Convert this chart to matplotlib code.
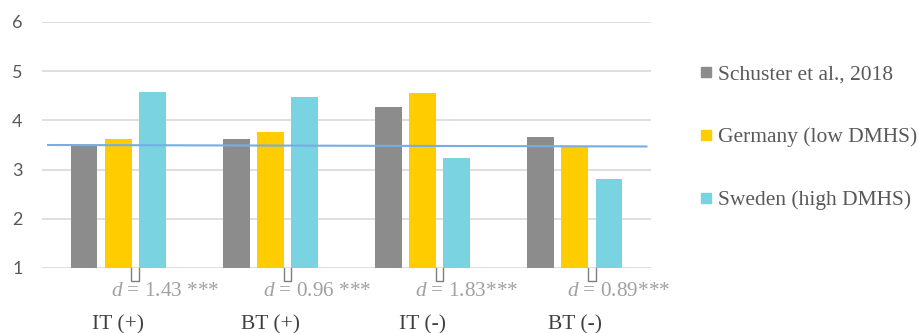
import matplotlib
matplotlib.use("Agg")
import matplotlib.pyplot as plt
from matplotlib.lines import Line2D

# data
categories = ["IT (+)", "BT (+)", "IT (-)", "BT (-)"]
series_names = ["Schuster et al., 2018", "Germany (low DMHS)", "Sweden (high DMHS)"]
schuster = [3.49, 3.63, 4.27, 3.67]
germany = [3.63, 3.77, 4.55, 3.46]
sweden = [4.57, 4.48, 3.23, 2.80]
effect_labels = ["1.43 ***", "0.96 ***", "1.83***", "0.89***"]
mean_line_x = [-0.46, 3.47]
mean_line_y = [3.50, 3.47]

colors = ["#8C8C8C", "#FFCC00", "#79D3E0"]

plt.rcParams["mathtext.fontset"] = "custom"
plt.rcParams["mathtext.it"] = "Liberation Serif:italic"
plt.rcParams["mathtext.rm"] = "Liberation Serif"

fig = plt.figure(figsize=(9.2, 3.33), dpi=100)
ax = fig.add_axes([42 / 920, 65 / 333, 609 / 920, 246 / 333])

bar_w = 0.177
step = 0.224
for i, vals in enumerate([schuster, germany, sweden]):
    xs = [k + (i - 1) * step for k in range(len(categories))]
    ax.bar(xs, [v - 1 for v in vals], bottom=1, width=bar_w, color=colors[i], zorder=2)

# grand mean line
ax.plot(mean_line_x, mean_line_y, color="#74AEE3", lw=1.5, zorder=3)

# brackets + effect sizes
for k, lab in enumerate(effect_labels):
    bx = k + step / 2
    ax.plot([bx - 0.025, bx - 0.025, bx + 0.025, bx + 0.025], [1.0, 0.74, 0.74, 1.0],
            color="#7F7F7F", lw=1, clip_on=False, zorder=4)
    ax.text(k - 0.05, 0.53, r"$d$ = " + lab, ha="left", va="center",
            family="Liberation Serif", fontsize=15.3, color="#A0A0A0", clip_on=False)

ax.set_xlim(-0.5, 3.5)
ax.set_ylim(1, 6)
ax.set_yticks([1, 2, 3, 4, 5, 6])
ax.set_xticks(range(len(categories)))
ax.set_xticklabels(categories, family="Liberation Serif", fontsize=15.5, color="#404040")
ax.tick_params(axis="x", length=0, pad=34)
ax.tick_params(axis="y", length=0, pad=14, labelsize=13, labelcolor="#595959")
for t in ax.get_yticklabels():
    t.set_family("Lato")
ax.grid(axis="y", color="#D9D9D9", lw=1.2, zorder=0)
ax.set_axisbelow(True)
for s in ax.spines.values():
    s.set_visible(False)

handles = [Line2D([], [], marker="s", ls="", color=c, markersize=7) for c in colors]
fig.legend(handles, series_names, loc="upper left", bbox_to_anchor=(698 / 920, 1 - 64 / 333),
           frameon=False, prop={"family": "Liberation Serif", "size": 15.5},
           labelcolor="#595959", labelspacing=2.0, handlelength=0.7, handletextpad=0.25,
           borderpad=0, borderaxespad=0)

fig.savefig("out.png", dpi=100)
